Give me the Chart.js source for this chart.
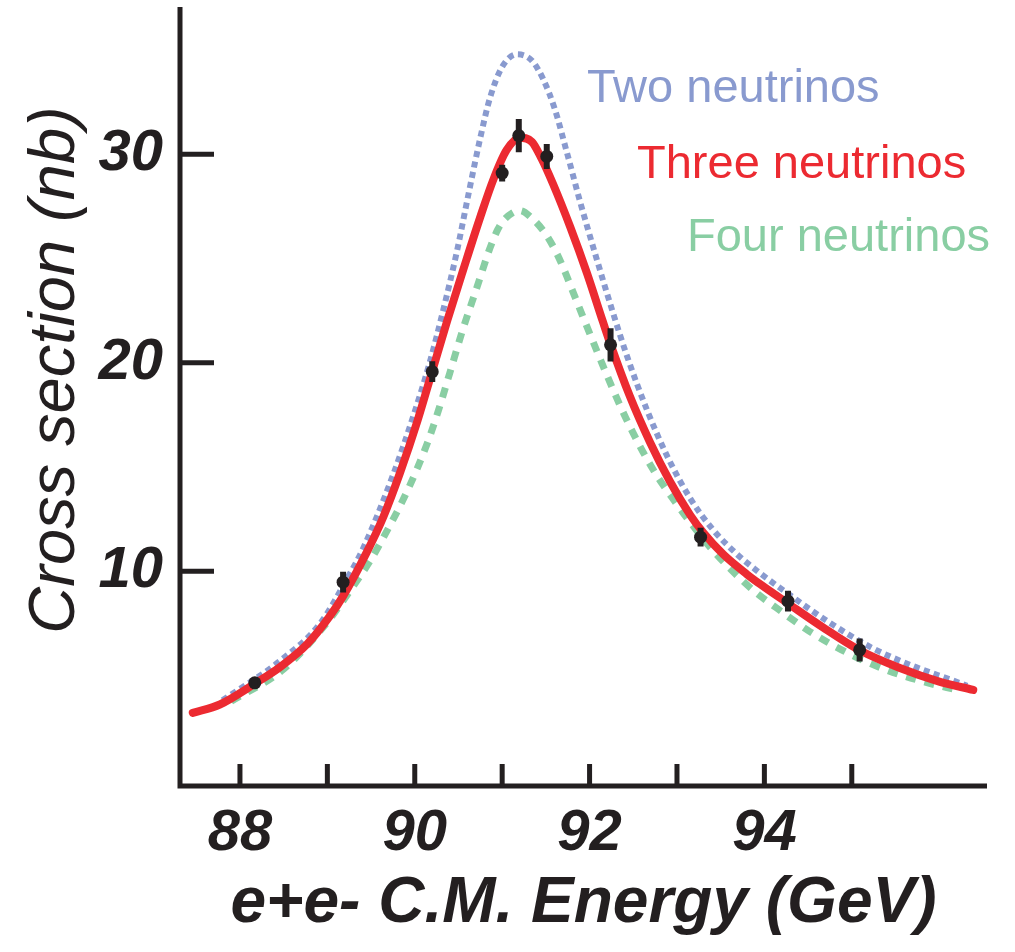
<!DOCTYPE html>
<html>
<head>
<meta charset="utf-8">
<script src="https://cdn.jsdelivr.net/npm/chart.js@4"></script>
<style>
  html, body { margin: 0; padding: 0; background: #fff; }
  canvas { display: block; }
</style>
</head>
<body>
<canvas id="zChart" width="1015" height="952"></canvas>
<script>
// axis ticks
const energyTicks = [88, 89, 90, 91, 92, 93, 94, 95];
const sigmaTicks = [10, 20, 30];

// measured points (GeV, nb, +/- nb)
const measEnergy = [88.17, 89.18, 90.2, 91.0, 91.19, 91.51, 92.24, 93.27, 94.27, 95.09];
const measSigma = [4.64, 9.47, 19.57, 29.1, 30.9, 29.9, 20.86, 11.63, 8.56, 6.22];
const measErr = [0.2, 0.5, 0.5, 0.4, 0.8, 0.6, 0.8, 0.45, 0.5, 0.55];

// Two neutrinos
const twoNuEnergy = [87.8, 88.46, 88.92, 89.22, 89.41, 89.75, 89.98, 90.17, 90.33, 90.48, 90.62, 90.75, 90.86, 91.0, 91.17, 91.34, 91.47, 91.6, 91.74, 91.89, 92.08, 92.26, 92.43, 92.66, 92.89, 93.15, 93.41, 93.69, 93.92, 94.26, 94.72, 95.24, 95.7, 96.16, 96.32];
const twoNuSigma = [3.8, 5.7, 7.5, 9.6, 11.1, 14.6, 17.4, 20.0, 22.6, 25.3, 28.2, 30.8, 32.7, 34.2, 34.8, 34.5, 33.6, 32.2, 30.1, 27.75, 25.0, 22.5, 20.3, 17.7, 15.5, 13.5, 12.0, 10.8, 10.0, 8.95, 7.6, 6.3, 5.45, 4.75, 4.5];

// Three neutrinos
const threeNuEnergy = [87.46, 87.77, 88.17, 88.46, 88.77, 89.03, 89.18, 89.45, 89.64, 89.83, 90.03, 90.2, 90.37, 90.55, 90.75, 90.9, 91.05, 91.2, 91.34, 91.45, 91.58, 91.78, 91.97, 92.15, 92.23, 92.46, 92.69, 92.92, 93.15, 93.3, 93.53, 93.8, 93.95, 94.27, 94.67, 95.09, 95.55, 96.0, 96.39];
const threeNuSigma = [3.2, 3.6, 4.6, 5.4, 6.5, 7.85, 8.8, 10.9, 12.6, 14.7, 17.2, 19.6, 22.0, 24.4, 27.0, 28.8, 30.2, 30.8, 30.6, 29.8, 28.6, 26.5, 24.3, 22.0, 21.0, 18.4, 16.2, 14.3, 12.7, 11.85, 10.8, 9.85, 9.38, 8.45, 7.3, 6.2, 5.35, 4.7, 4.3];

// Four neutrinos
const fourNuEnergy = [87.9, 88.5, 89.0, 89.2, 89.49, 89.6, 89.92, 90.14, 90.27, 90.4, 90.55, 90.71, 90.86, 90.95, 91.01, 91.12, 91.2, 91.35, 91.51, 91.63, 91.72, 91.81, 91.92, 92.08, 92.27, 92.46, 92.73, 93.0, 93.15, 93.41, 93.76, 93.95, 94.14, 94.52, 94.94, 95.4, 95.86, 96.2];
const fourNuSigma = [3.75, 5.3, 7.55, 8.7, 10.5, 11.3, 13.9, 16.1, 17.7, 19.5, 21.6, 23.6, 25.5, 26.4, 26.8, 27.2, 27.3, 26.9, 26.1, 25.2, 24.35, 23.4, 22.25, 20.6, 18.7, 16.95, 14.85, 13.2, 12.35, 11.0, 9.5, 8.82, 8.23, 7.1, 6.1, 5.25, 4.65, 4.3];

const INK = '#231F20';
const BLUE = '#899ACF';
const RED = '#EC2A31';
const GREEN = '#89CEA3';
const FAMILY = "'Liberation Sans', Arial, sans-serif";

const toXY = (xs, ys) => xs.map((x, i) => ({ x: x, y: ys[i] }));

// axis lines and inward ticks, y title, curve labels
const framePlugin = {
  id: 'frame',
  beforeDatasetsDraw(chart) {
    const { ctx, chartArea: a, scales: { x, y } } = chart;
    ctx.save();
    ctx.strokeStyle = INK;
    ctx.lineWidth = 5;
    ctx.lineJoin = 'miter';
    ctx.beginPath();
    ctx.moveTo(a.left, a.top);
    ctx.lineTo(a.left, a.bottom);
    ctx.lineTo(a.right, a.bottom);
    ctx.stroke();

    ctx.beginPath();
    x.ticks.forEach((t) => {
      const px = x.getPixelForValue(t.value);
      ctx.moveTo(px, a.bottom);
      ctx.lineTo(px, a.bottom - 22);
    });
    y.ticks.forEach((t) => {
      const py = y.getPixelForValue(t.value);
      ctx.moveTo(a.left, py);
      ctx.lineTo(a.left + 34, py);
    });
    ctx.stroke();

    // y axis title
    ctx.fillStyle = INK;
    ctx.font = 'italic 65px ' + FAMILY;
    ctx.textAlign = 'center';
    ctx.textBaseline = 'alphabetic';
    ctx.translate(74, 370);
    ctx.rotate(-Math.PI / 2);
    ctx.fillText('Cross section (nb)', 0, 0);
    ctx.restore();

    // curve labels
    ctx.save();
    ctx.font = '47px ' + FAMILY;
    ctx.textAlign = 'left';
    ctx.textBaseline = 'alphabetic';
    ctx.fillStyle = BLUE;
    ctx.fillText('Two neutrinos', 587, 102);
    ctx.fillStyle = RED;
    ctx.fillText('Three neutrinos', 637, 178);
    ctx.fillStyle = GREEN;
    ctx.fillText('Four neutrinos', 687, 251);
    ctx.restore();
  },
  afterDatasetsDraw(chart) {
    // error bars on the measurements
    const { ctx, scales: { x, y } } = chart;
    ctx.save();
    ctx.strokeStyle = INK;
    ctx.lineWidth = 6;
    ctx.beginPath();
    measEnergy.forEach((e, i) => {
      const px = x.getPixelForValue(e);
      ctx.moveTo(px, y.getPixelForValue(measSigma[i] + measErr[i]));
      ctx.lineTo(px, y.getPixelForValue(measSigma[i] - measErr[i]));
    });
    ctx.stroke();
    ctx.restore();
  }
};

const tickFont = { family: FAMILY, size: 58, weight: 'bold', style: 'italic' };

const ctx = document.getElementById('zChart').getContext('2d');
const zChart = new Chart(ctx, {
  type: 'scatter',
  data: {
    datasets: [
      {
        label: 'Measurements',
        data: toXY(measEnergy, measSigma),
        pointRadius: 6.5,
        pointBackgroundColor: INK,
        pointBorderWidth: 0,
        showLine: false,
        order: 0,
      },
      {
        label: 'Three neutrinos',
        data: toXY(threeNuEnergy, threeNuSigma),
        showLine: true,
        borderColor: RED,
        borderWidth: 8,
        borderCapStyle: 'round',
        pointRadius: 0,
        cubicInterpolationMode: 'monotone',
        order: 1,
      },
      {
        label: 'Four neutrinos',
        data: toXY(fourNuEnergy, fourNuSigma),
        showLine: true,
        borderColor: GREEN,
        borderWidth: 7,
        borderDash: [10, 9],
        pointRadius: 0,
        cubicInterpolationMode: 'monotone',
        order: 2,
      },
      {
        label: 'Two neutrinos',
        data: toXY(twoNuEnergy, twoNuSigma),
        showLine: true,
        borderColor: BLUE,
        borderWidth: 6,
        borderDash: [6, 4.5],
        pointRadius: 0,
        cubicInterpolationMode: 'monotone',
        order: 3,
      }
    ]
  },
  options: {
    responsive: false,
    animation: false,
    devicePixelRatio: 1,
    layout: { padding: { top: 7, right: 28, left: 0, bottom: 0 } },
    plugins: {
      legend: { display: false },
      tooltip: { enabled: false }
    },
    scales: {
      x: {
        type: 'linear',
        min: 87.314,
        max: 96.547,
        afterBuildTicks: (s) => { s.ticks = energyTicks.map((v) => ({ value: v })); },
        afterFit: (s) => { s.height = 166; s.paddingLeft = 0; s.paddingRight = 0; },
        grid: { display: false, drawTicks: false },
        border: { display: false },
        ticks: {
          autoSkip: false,
          maxRotation: 0,
          padding: 13,
          color: INK,
          font: tickFont,
          callback: (v) => (v % 2 === 0 ? String(v) : '')
        },
        title: {
          display: true,
          text: 'e+e- C.M. Energy (GeV)',
          color: INK,
          font: { family: FAMILY, size: 64, weight: 'bold', style: 'italic' },
          padding: { top: 0, bottom: 9 }
        }
      },
      y: {
        type: 'linear',
        min: -0.31,
        max: 37.07,
        afterBuildTicks: (s) => { s.ticks = sigmaTicks.map((v) => ({ value: v })); },
        afterFit: (s) => { s.width = 180; s.paddingTop = 0; s.paddingBottom = 0; },
        grid: { display: false, drawTicks: false },
        border: { display: false },
        ticks: {
          padding: 17,
          color: INK,
          font: tickFont
        }
      }
    }
  },
  plugins: [framePlugin]
});
</script>
</body>
</html>
